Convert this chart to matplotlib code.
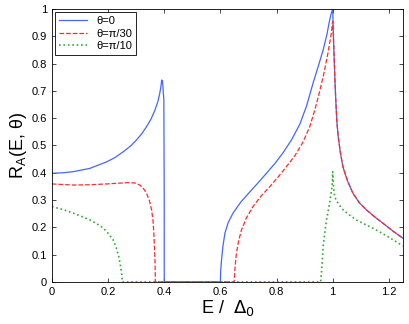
import numpy as np
import matplotlib.pyplot as plt

plt.rcParams['font.family'] = ['Liberation Sans', 'DejaVu Sans']

# theta = 0
eBlue = [0, 0.04, 0.076, 0.135, 0.195, 0.225, 0.254, 0.28, 0.301, 0.32, 0.337, 0.353, 0.367, 0.377, 0.384, 0.388,
         0.391, 0.394, 0.3986, 0.4, 0.4,
         0.6, 0.6, 0.601, 0.604, 0.609, 0.616, 0.628, 0.645, 0.673, 0.705, 0.735, 0.764, 0.795, 0.823, 0.853, 0.883,
         0.907, 0.93, 0.95, 0.966, 0.979, 0.989, 0.995, 1.0,
         1.004, 1.008, 1.011, 1.015, 1.02, 1.028, 1.037, 1.053, 1.072, 1.095, 1.12, 1.15, 1.179, 1.215, 1.25]
rBlue = [0.398, 0.40, 0.404, 0.416, 0.44, 0.456, 0.477, 0.498, 0.52, 0.543, 0.569, 0.597, 0.63, 0.66, 0.691, 0.715,
         0.74, 0.735, 0.667, 0.3, 0.0,
         0.0, 0.0, 0.04, 0.08, 0.13, 0.178, 0.218, 0.252, 0.293, 0.33, 0.364, 0.398, 0.435, 0.473, 0.52, 0.578,
         0.645, 0.728, 0.795, 0.85, 0.905, 0.958, 0.985, 1.0,
         0.86, 0.74, 0.667, 0.585, 0.53, 0.47, 0.42, 0.37, 0.325, 0.29, 0.264, 0.238, 0.215, 0.186, 0.16]

# theta = pi/30
eRed = [0, 0.076, 0.135, 0.195, 0.24, 0.278, 0.298, 0.313, 0.326, 0.337, 0.347, 0.355, 0.36, 0.363, 0.365,
        0.367, 0.368, 0.368,
        0.649, 0.649, 0.652, 0.657, 0.665, 0.675, 0.693, 0.716, 0.745, 0.776, 0.806, 0.835, 0.865, 0.894, 0.918,
        0.937, 0.954, 0.97, 0.983, 0.995, 1.0,
        1.004, 1.008, 1.011, 1.015, 1.02, 1.028, 1.037, 1.053, 1.072, 1.095, 1.12, 1.15, 1.179, 1.215, 1.25]
rRed = [0.359, 0.355, 0.356, 0.359, 0.362, 0.364, 0.362, 0.355, 0.342, 0.325, 0.298, 0.264, 0.225, 0.178, 0.13,
        0.08, 0.03, 0.0,
        0.0, 0.0, 0.05, 0.105, 0.15, 0.19, 0.235, 0.276, 0.315, 0.349, 0.385, 0.422, 0.462, 0.512, 0.568,
        0.632, 0.700, 0.77, 0.838, 0.91, 0.955,
        0.86, 0.74, 0.667, 0.585, 0.53, 0.47, 0.42, 0.37, 0.325, 0.29, 0.264, 0.238, 0.215, 0.186, 0.16]

# theta = pi/10
eGreen = [0, 0.04, 0.076, 0.105, 0.135, 0.16, 0.183, 0.2, 0.218, 0.229, 0.238, 0.244, 0.248, 0.25, 0.25,
          0.957, 0.957, 0.96, 0.966, 0.972, 0.978, 0.984, 0.989, 0.995, 0.998, 1.0,
          1.003, 1.007, 1.015, 1.025, 1.037, 1.06, 1.084, 1.113, 1.143, 1.19, 1.25]
rGreen = [0.276, 0.265, 0.252, 0.24, 0.227, 0.213, 0.197, 0.178, 0.154, 0.125, 0.093, 0.06, 0.032, 0.01, 0.0,
          0.0, 0.0, 0.032, 0.13, 0.18, 0.227, 0.26, 0.288, 0.33, 0.35, 0.404,
          0.35, 0.312, 0.295, 0.28, 0.264, 0.245, 0.227, 0.212, 0.197, 0.17, 0.132]

labels = ['θ=0', 'θ=π/30', 'θ=π/10']

fig = plt.figure(figsize=(4.09, 3.24), dpi=100)
ax = fig.add_axes([0.127, 0.13, 0.858, 0.842])

ax.plot(eBlue, rBlue, '-', color='#4466ff', lw=0.9, label=labels[0])
ax.plot(eRed, rRed, '--', color='#ff2a2a', lw=0.9, label=labels[1])
ax.plot(eGreen, rGreen, ':', color='#33aa33', lw=1.2, label=labels[2])

ax.set_xlim(0, 1.25)
ax.set_ylim(0, 1)
ax.set_xticks([0, 0.2, 0.4, 0.6, 0.8, 1.0, 1.2])
ax.set_xticklabels(['0', '0.2', '0.4', '0.6', '0.8', '1', '1.2'])
ax.set_yticks(np.arange(0, 1.01, 0.1))
ax.set_yticklabels(['0', '0.1', '0.2', '0.3', '0.4', '0.5', '0.6', '0.7', '0.8', '0.9', '1'])
ax.tick_params(direction='in', top=True, right=True, labelsize=8, length=3, width=0.5)
for s in ax.spines.values():
    s.set_linewidth(0.6)

ax.set_xlabel(r'E /  $\Delta_0$', fontsize=13, labelpad=1)
ax.set_ylabel(r'R$_\mathregular{A}$(E, θ)', fontsize=13, labelpad=2)

leg = ax.legend(loc='upper left', fontsize=8, fancybox=False, framealpha=1,
                edgecolor='black', borderpad=0.3, handlelength=2.6, labelspacing=0.25,
                borderaxespad=0.3)
leg.get_frame().set_linewidth(0.6)

fig.savefig('out.png', dpi=100)
